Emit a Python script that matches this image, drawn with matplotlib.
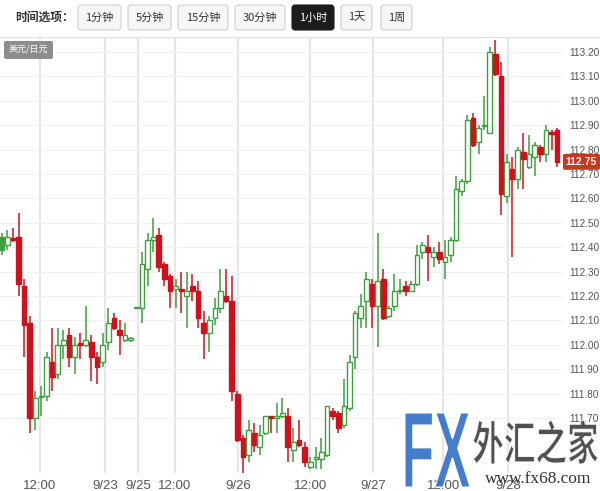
import numpy as np
import matplotlib
matplotlib.use("Agg")
import matplotlib.pyplot as plt
from matplotlib.patches import FancyBboxPatch, PathPatch
from matplotlib.textpath import TextPath
from matplotlib.font_manager import FontProperties
from matplotlib.transforms import Affine2D

# ---- DATA (USD/JPY, 1 hour candles) ----
opens = [112.39, 112.41, 112.435, 112.44, 112.24, 112.09, 111.70, 111.785, 111.79, 111.93,
         111.88, 112.00, 112.04, 111.95, 112.005, 112.00, 112.01, 111.95, 111.93, 112.01,
         112.11, 112.06, 112.02, 112.02, 112.15, 112.15, 112.31, 112.43, 112.45, 112.33,
         112.28, 112.23, 112.23, 112.20, 112.24, 112.22, 112.09, 112.05, 112.11, 112.15,
         112.20, 112.18, 111.80, 111.62, 111.55, 111.64, 111.58, 111.64, 111.71, 111.70,
         111.71, 111.71, 111.57, 111.61, 111.58, 111.50, 111.53, 111.53, 111.55, 111.73,
         111.72, 111.67, 111.74, 111.95, 112.11, 112.18, 112.25, 112.16, 112.27, 112.12,
         112.16, 112.22, 112.24, 112.22, 112.25, 112.38, 112.40, 112.36, 112.38, 112.34,
         112.37, 112.43, 112.63, 112.67, 112.93, 112.83, 112.895, 112.87, 113.19, 113.10,
         112.61, 112.72, 112.68, 112.79, 112.73, 112.77, 112.81, 112.78, 112.87, 112.88]
highs = [112.46, 112.47, 112.48, 112.54, 112.27, 112.12, 111.81, 111.83, 111.97, 112.07,
         112.07, 112.06, 112.07, 112.03, 112.05, 112.16, 112.04, 111.97, 112.05, 112.15,
         112.13, 112.10, 112.09, 112.03, 112.155, 112.38, 112.46, 112.52, 112.48, 112.34,
         112.29, 112.27, 112.30, 112.30, 112.29, 112.26, 112.14, 112.12, 112.19, 112.31,
         112.31, 112.28, 111.81, 111.63, 111.69, 111.68, 111.67, 111.71, 111.71, 111.76,
         111.78, 111.74, 111.66, 111.69, 111.60, 111.54, 111.58, 111.62, 111.75, 111.74,
         111.73, 111.86, 111.96, 112.14, 112.21, 112.30, 112.27, 112.46, 112.31, 112.16,
         112.29, 112.27, 112.26, 112.26, 112.41, 112.42, 112.45, 112.40, 112.42, 112.43,
         112.44, 112.69, 112.68, 112.94, 112.95, 112.90, 113.02, 113.22, 113.25, 113.16,
         112.78, 112.77, 112.81, 112.87, 112.86, 112.83, 112.82, 112.90, 112.88, 112.89]
lows = [112.37, 112.39, 112.42, 112.20, 111.95, 111.64, 111.65, 111.71, 111.77, 111.81,
        111.86, 111.94, 111.91, 111.88, 111.94, 111.99, 111.85, 111.84, 111.91, 111.98,
        112.06, 111.96, 112.01, 112.01, 112.145, 112.09, 112.24, 112.38, 112.30, 112.24,
        112.15, 112.15, 112.13, 112.07, 112.18, 112.07, 111.94, 111.97, 112.08, 112.13,
        112.17, 111.77, 111.60, 111.47, 111.52, 111.56, 111.55, 111.63, 111.64, 111.64,
        111.70, 111.52, 111.52, 111.58, 111.50, 111.49, 111.49, 111.49, 111.54, 111.69,
        111.64, 111.66, 111.73, 111.90, 112.07, 112.07, 112.07, 111.99, 112.10, 112.11,
        112.14, 112.21, 112.20, 112.22, 112.24, 112.35, 112.26, 112.32, 112.33, 112.27,
        112.34, 112.42, 112.61, 112.66, 112.81, 112.78, 112.88, 112.87, 113.10, 112.53,
        112.58, 112.36, 112.64, 112.64, 112.72, 112.69, 112.75, 112.75, 112.80, 112.73]
closes = [112.44, 112.44, 112.43, 112.25, 112.08, 111.70, 111.78, 111.79, 111.95, 111.87,
          112.00, 112.02, 111.95, 112.00, 112.00, 112.02, 111.95, 111.91, 112.00, 112.09,
          112.07, 112.04, 112.04, 112.02, 112.15, 112.33, 112.43, 112.44, 112.32, 112.27,
          112.22, 112.24, 112.22, 112.22, 112.22, 112.11, 112.05, 112.10, 112.15, 112.22,
          112.18, 111.81, 111.61, 111.54, 111.65, 111.59, 111.63, 111.71, 111.70, 111.71,
          111.72, 111.58, 111.60, 111.59, 111.52, 111.52, 111.54, 111.56, 111.75, 111.71,
          111.66, 111.75, 111.93, 112.13, 112.16, 112.27, 112.16, 112.26, 112.11, 112.15,
          112.22, 112.225, 112.22, 112.25, 112.37, 112.41, 112.38, 112.38, 112.35, 112.36,
          112.43, 112.64, 112.67, 112.92, 112.82, 112.89, 112.90, 113.20, 113.11, 112.62,
          112.75, 112.68, 112.80, 112.76, 112.78, 112.82, 112.78, 112.88, 112.865, 112.75]

tick_pos = [6.8, 18.4, 24.3, 30.9, 42.1, 55.0, 66.2, 78.7, 90.3]
tick_labels = ['12:00', '9/23', '9/25', '12:00', '9/26', '12:00', '9/27', '12:00', '9/28']
price_ticks = np.round(np.arange(111.70, 113.21, 0.10), 2)
last_price = 112.75

buttons = ['1分钟', '5分钟', '15分钟', '30分钟', '1小时', '1天', '1周']
active_button = '1小时'

GREEN = '#3f9f3f'
RED = '#d2101c'
CJK = ['Noto Sans CJK SC', 'DejaVu Sans']

plt.rcParams['font.family'] = ['Liberation Sans', 'DejaVu Sans']

fig = plt.figure(figsize=(6, 4.91), dpi=100)
fig.patch.set_facecolor('white')

# ---- CANDLES ----
ax = fig.add_axes([0, 18 / 491, 562 / 600, 436 / 491])
o = np.array(opens); h = np.array(highs); l = np.array(lows); c = np.array(closes)
x = np.arange(len(o))
up = c >= o
col = np.where(up, GREEN, RED)
face = np.where(up, 'white', RED)
face[0] = GREEN  # first bar drawn solid in the source

ax.vlines(x, l, h, colors=col, lw=1.1, zorder=2)
body = np.maximum(np.abs(c - o), 0.006)
ax.bar(x, body, bottom=np.minimum(o, c), width=0.84, color=face,
       edgecolor=col, linewidth=1.0, zorder=3)

ax.set_xlim(-0.3, 99.87)
ax.set_ylim(111.4746, 113.2615)
ax.yaxis.tick_right()
ax.set_yticks(price_ticks, [f'{v:.2f}' for v in price_ticks])
ax.set_xticks(tick_pos, tick_labels)
ax.tick_params(axis='y', length=0, pad=5, labelsize=7.3, labelcolor='#555555')
ax.tick_params(axis='x', length=0, pad=5, labelsize=9.5, labelcolor='#555555')
ax.grid(axis='x', color='#e6e6e6', lw=1.5)
ax.grid(axis='y', color='#f1f1f1', lw=0.8)
ax.set_axisbelow(True)
for s in ax.spines.values():
    s.set_visible(False)

# ---- OVERLAY (toolbar, tags, watermark) in pixel coords ----
ov = fig.add_axes([0, 0, 1, 1], zorder=5)
ov.set_xlim(0, 600)
ov.set_ylim(491, 0)
ov.axis('off')
ov.patch.set_alpha(0)

ov.plot([0, 600], [37, 37], color='#e2e2e2', lw=1)
ov.text(15, 17.5, '时间选项：', ha='left', va='center', fontsize=8.5,
        fontweight='bold', color='#333333', family=CJK)

lefts = [78, 128, 178, 235, 292, 341, 381]
rights = [121, 171, 228, 285, 334, 372, 412]
for lab, x0, x1 in zip(buttons, lefts, rights):
    act = lab == active_button
    ov.add_patch(FancyBboxPatch((x0, 5), x1 - x0, 25,
                                boxstyle='round,pad=0,rounding_size=3',
                                fc='#1c1c1c' if act else '#f7f7f7',
                                ec='#1c1c1c' if act else '#cfcfcf', lw=0.8))
    ov.text((x0 + x1) / 2, 17.5, lab, ha='center', va='center', fontsize=8,
            color='white' if act else '#333333', family=CJK)

ov.add_patch(FancyBboxPatch((4, 41), 49, 18, boxstyle='round,pad=0,rounding_size=2',
                            fc='#8d8d8d', ec='none'))
ov.text(28.5, 50, '美元/日元', ha='center', va='center', fontsize=6.5,
        color='white', family=CJK)

# last price tag
tag_y = 52 + (113.20 - last_price) * 244
ov.add_patch(FancyBboxPatch((563, tag_y - 8), 37, 16, boxstyle='round,pad=0,rounding_size=2',
                            fc='#c23a1f', ec='none'))
ov.text(581.5, tag_y, f'{last_price:.2f}', ha='center', va='center', fontsize=7.5,
        fontweight='bold', color='white')


def text_in_box(s, x0, y0, x1, y1, prop, **kw):
    tp = TextPath((0, 0), s, size=1, prop=prop)
    bb = tp.get_extents()
    tr = (Affine2D().translate(-bb.x0, -bb.y0)
          .scale((x1 - x0) / bb.width, -(y1 - y0) / bb.height)
          .translate(x0, y1) + ov.transData)
    ov.add_patch(PathPatch(tp, transform=tr, **kw))


# watermark
text_in_box('FX', 405, 413, 470, 487,
            FontProperties(family='Liberation Sans', weight='bold'),
            fc='#2f6fc6', ec='white', lw=0.8, alpha=0.9)
text_in_box('外汇之家', 473, 420, 598, 464,
            FontProperties(family='Noto Sans CJK SC', weight='bold'),
            fc='#333333', ec='white', lw=0.8, alpha=0.85)
ov.text(538, 479, 'www.fx68.com', ha='center', va='center', fontsize=12.5,
        color='#333333', family='Liberation Serif')

plt.savefig('out.png', dpi=100)
